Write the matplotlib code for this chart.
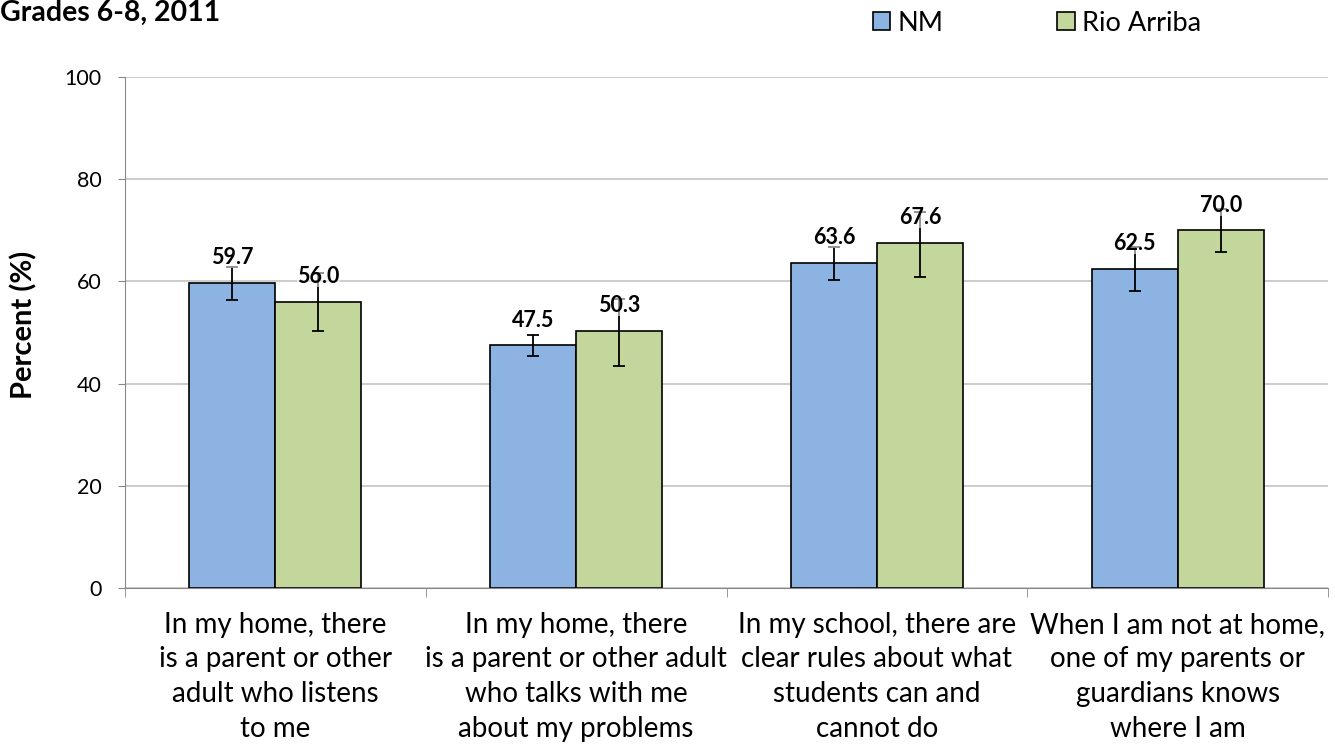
import matplotlib.pyplot as plt
import numpy as np

plt.rcParams['font.family'] = ['Lato', 'DejaVu Sans']

# --- DATA ---
categories = [
    "In my home, there\nis a parent or other\nadult who listens\nto me",
    "In my home, there\nis a parent or other adult\nwho talks with me\nabout my problems",
    "In my school, there are\nclear rules about what\nstudents can and\ncannot do",
    "When I am not at home,\none of my parents or\nguardians knows\nwhere I am",
]
nm_values = [59.7, 47.5, 63.6, 62.5]
nm_low = [56.4, 45.4, 60.3, 58.2]
nm_high = [62.8, 49.6, 66.8, 66.7]
ra_values = [56.0, 50.3, 67.6, 70.0]
ra_low = [50.3, 43.5, 60.9, 65.8]
ra_high = [61.6, 56.5, 73.5, 74.2]
series_names = ["NM", "Rio Arriba"]
yticks = [0, 20, 40, 60, 80, 100]

# --- FIGURE ---
fig = plt.figure(figsize=(13.35, 7.46), dpi=100)
ax = fig.add_axes([0.0936, 0.2118, 0.9012, 0.685])

x = np.arange(len(categories))
w = 0.286

nm_err = [np.array(nm_values) - np.array(nm_low), np.array(nm_high) - np.array(nm_values)]
ra_err = [np.array(ra_values) - np.array(ra_low), np.array(ra_high) - np.array(ra_values)]

ax.bar(x - w / 2, nm_values, w, color='#8DB3E2', edgecolor='black', linewidth=1.2,
       label=series_names[0], zorder=2)
ax.bar(x + w / 2, ra_values, w, color='#C3D69B', edgecolor='black', linewidth=1.2,
       label=series_names[1], zorder=2)
ax.errorbar(x - w / 2, nm_values, yerr=nm_err, fmt='none', ecolor='black',
            elinewidth=1.3, capsize=4.5, capthick=1.3, zorder=3)
ax.errorbar(x + w / 2, ra_values, yerr=ra_err, fmt='none', ecolor='black',
            elinewidth=1.3, capsize=4.5, capthick=1.3, zorder=3)

# data labels
for xs, vals in [(x - w / 2, nm_values), (x + w / 2, ra_values)]:
    for xi, v in zip(xs, vals):
        ax.annotate(f"{v:.1f}", (xi, v), xytext=(0, 18), textcoords='offset points',
                    ha='center', va='center', fontsize=15.5, fontweight='bold',
                    bbox=dict(facecolor='white', edgecolor='none', alpha=0.55, pad=0),
                    zorder=4)

ax.set_xlim(-0.5, len(categories) - 0.5)
ax.set_ylim(0, 100)
ax.set_yticks(yticks)
ax.tick_params(axis='y', labelsize=15.5, length=5, color='#888888', direction='out', pad=12)
ax.set_xticks(x)
ax.set_xticklabels(categories, fontsize=20, linespacing=1.42)
ax.tick_params(axis='x', length=0, pad=17)
ax.set_xticks(np.arange(len(categories) + 1) - 0.5, minor=True)
ax.tick_params(axis='x', which='minor', length=6.5, color='#888888')

ax.grid(axis='y', color='#C8C8C8', linewidth=1.3, zorder=0)
ax.set_axisbelow(True)
for s in ['top', 'right']:
    ax.spines[s].set_visible(False)
ax.spines['left'].set_color('#888888')
ax.spines['bottom'].set_color('#888888')

ax.set_ylabel("Percent (%)", fontsize=21, fontweight='bold')
ax.yaxis.set_label_coords(-0.073, 0.515)

fig.text(0.0, 0.972, "Grades 6-8, 2011", fontsize=20.5, fontweight='bold',
         ha='left', va='baseline')

fig.legend(loc='center left', bbox_to_anchor=(0.654, 0.969), ncol=2, frameon=False,
           fontsize=19.5, handlelength=0.63, handleheight=0.63, handletextpad=0.28,
           columnspacing=4.2, borderpad=0, borderaxespad=0)

fig.savefig('out.png', dpi=100)
